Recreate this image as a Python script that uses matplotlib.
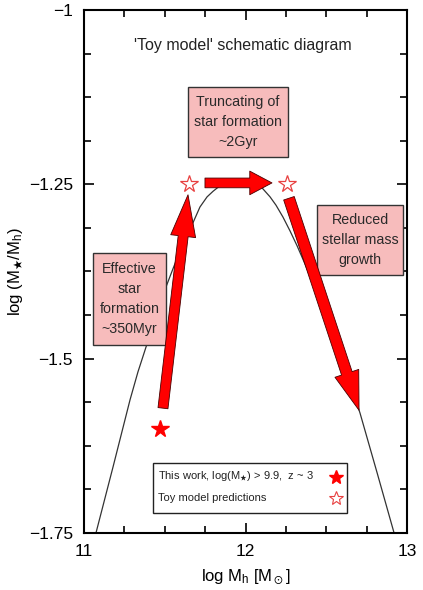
import matplotlib
matplotlib.use("Agg")
import matplotlib.pyplot as plt
from matplotlib.patches import Rectangle, FancyArrowPatch
from matplotlib.ticker import MultipleLocator

plt.rcParams['font.family'] = ['Liberation Sans', 'DejaVu Sans']
plt.rcParams['mathtext.fontset'] = 'custom'
plt.rcParams['mathtext.rm'] = 'Liberation Sans'
plt.rcParams['mathtext.it'] = 'Liberation Sans:italic'
plt.rcParams['mathtext.fallback'] = 'stixsans'

# Stellar-to-halo mass relation of the toy model
halo_mass = [11.074, 11.180, 11.285, 11.334, 11.390, 11.446, 11.508, 11.551,
             11.594, 11.638, 11.675, 11.718, 11.762, 11.799, 11.842, 11.885,
             11.923, 11.966, 12.009, 12.053, 12.102, 12.152, 12.189, 12.232,
             12.276, 12.319, 12.368, 12.418, 12.486, 12.560, 12.635, 12.709,
             12.814, 12.920]
mass_ratio = [-1.750, -1.655, -1.559, -1.519, -1.479, -1.437, -1.397, -1.371,
              -1.346, -1.324, -1.305, -1.2825, -1.268, -1.260, -1.252, -1.247,
              -1.2445, -1.244, -1.2445, -1.247, -1.255, -1.268, -1.280, -1.297,
              -1.317, -1.338, -1.364, -1.392, -1.432, -1.478, -1.526, -1.578,
              -1.663, -1.750]

# Observed point (this work) and toy model predictions
obs_x = [11.471]
obs_y = [-1.601]
toy_x = [11.652, 12.255]
toy_y = [-1.249, -1.249]

legend_labels = [r'This work, log(M$_\bigstar$) > 9.9,  z ~ 3',
                 'Toy model predictions']
stage_labels = ['Truncating of\nstar formation\n~2Gyr',
                'Effective\nstar\nformation\n~350Myr',
                'Reduced\nstellar mass\ngrowth']

fig = plt.figure(figsize=(4.23, 5.90), dpi=100)
ax = fig.add_axes([0.1986, 0.0966, 0.7636, 0.8865])

ax.plot(halo_mass, mass_ratio, color='#333333', lw=0.9, zorder=2)

ax.plot(obs_x, obs_y, ls='none', marker='*', ms=13, color='red',
        mec='red', zorder=5)
ax.plot(toy_x, toy_y, ls='none', marker='*', ms=13, mfc='white',
        mec='#e84040', mew=0.9, zorder=5)

# Evolutionary arrows
arrow_kw = dict(facecolor='#ff0000', edgecolor='#4a0000', lw=0.6,
                shrinkA=0, shrinkB=0, mutation_scale=1, zorder=4)
ax.add_patch(FancyArrowPatch((11.489, -1.571), (11.644, -1.265),
             arrowstyle='simple,head_length=30,head_width=18,tail_width=7.2',
             **arrow_kw))
ax.add_patch(FancyArrowPatch((11.749, -1.248), (12.164, -1.248),
             arrowstyle='simple,head_length=16,head_width=17,tail_width=7',
             **arrow_kw))
ax.add_patch(FancyArrowPatch((12.269, -1.270), (12.703, -1.574),
             arrowstyle='simple,head_length=28,head_width=18,tail_width=8',
             **arrow_kw))

# Annotation boxes
boxes = [((11.644, -1.2108), 0.619, 0.1004),
         ((11.056, -1.4804), 0.452, 0.1319),
         ((12.443, -1.3800), 0.532, 0.1004)]
for ((x0, y0), w, h), label in zip(boxes, stage_labels):
    ax.add_patch(Rectangle((x0, y0), w, h, facecolor='#f7bcbc',
                           edgecolor='#333333', lw=1.0, zorder=3))
    ax.text(x0 + w / 2, y0 + h / 2, label, ha='center', va='center',
            ma='center', fontsize=10.3, linespacing=1.55, color='#2a2a2a',
            zorder=6)

ax.text(0.492, 0.933, "'Toy model' schematic diagram", transform=ax.transAxes,
        ha='center', va='center', fontsize=11.5, color='#222222')

# Legend: labels on the left, symbols on the right
ax.add_patch(Rectangle((0.2136, 0.0382), 0.6006, 0.0956,
                       transform=ax.transAxes, facecolor='white',
                       edgecolor='#222222', lw=1.0, zorder=7))
legend_rows = [0.1071, 0.0669]
legend_styles = [dict(color='red', mec='red'),
                 dict(mfc='white', mec='#e84040', mew=0.8)]
for label, row, style in zip(legend_labels, legend_rows, legend_styles):
    ax.text(0.229, row, label, transform=ax.transAxes, ha='left',
            va='center', fontsize=8, color='#222222', zorder=8)
    ax.plot([0.780], [row], transform=ax.transAxes, ls='none', marker='*',
            ms=10, zorder=8, clip_on=False, **style)

ax.set_xlim(11, 13)
ax.set_ylim(-1.75, -1)
ax.set_xticks([11, 12, 13])
ax.set_yticks([-1.75, -1.5, -1.25, -1])
ax.set_yticklabels(['−1.75', '−1.5', '−1.25', '−1'])
ax.xaxis.set_minor_locator(MultipleLocator(0.25))
ax.yaxis.set_minor_locator(MultipleLocator(0.0625))
ax.tick_params(which='both', direction='in', top=True, right=True,
               width=1.2, labelsize=12.5)
ax.tick_params(which='major', length=7, pad=8)
ax.tick_params(which='minor', length=5)
for s in ax.spines.values():
    s.set_linewidth(1.5)

ax.set_xlabel(r'log M$_{\rm h}$ [M$_\odot$]', fontsize=12)
ax.set_ylabel(r'log (M$_\bigstar$/M$_{\rm h}$)', fontsize=12)
ax.xaxis.set_label_coords(0.5, -0.066)
ax.yaxis.set_label_coords(-0.183, 0.5)

fig.savefig('out.png', dpi=100)
